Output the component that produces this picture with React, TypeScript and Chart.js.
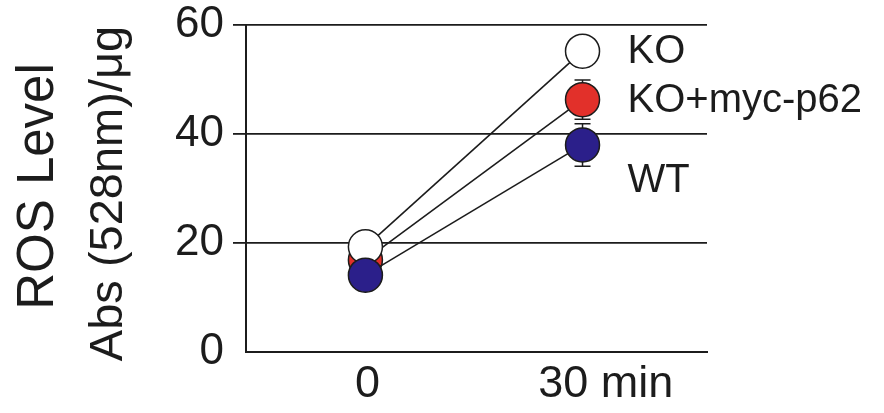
import React, { useEffect, useRef } from 'react';
import { Chart, registerables } from 'chart.js';

Chart.register(...registerables);

// ---- data ----
const timePoints = [0, 30];
const xTickValues = [0.3, 33.2];
const xTickLabels = ['0', '30 min'];
const yTicks = [0, 20, 40, 60];

const koValues = [19.3, 55.2];
const koErrors = [0, 0];
const p62Values = [16.9, 46.3];
const p62Errors = [0, 3.6];
const wtValues = [14.1, 38.0];
const wtErrors = [0, 3.9];

const seriesNames = ['WT', 'KO', 'KO+myc-p62'];
const yTitleLines = ['ROS Level', 'Abs (528nm)/\u03bcg'];

const FONT = '"Liberation Sans", Arial, Helvetica, sans-serif';
const INK = '#1c1c1c';

export default function App() {
  const ref = useRef<HTMLCanvasElement | null>(null);

  useEffect(() => {
    document.body.style.margin = '0';
    const canvas = ref.current;
    if (!canvas) return;

    const errorBars = {
      id: 'errorBars',
      beforeDatasetsDraw(chart: any) {
        const ctx = chart.ctx;
        const xs = chart.scales.x;
        const ys = chart.scales.y;
        ctx.save();
        ctx.strokeStyle = INK;
        ctx.lineWidth = 1.5;
        chart.data.datasets.forEach((ds: any) => {
          const errs: number[] = ds.errors || [];
          ds.data.forEach((p: any, i: number) => {
            const e = errs[i];
            if (!e) return;
            const x = xs.getPixelForValue(p.x);
            const yTop = ys.getPixelForValue(p.y + e);
            const yBot = ys.getPixelForValue(p.y - e);
            const cap = 8;
            ctx.beginPath();
            ctx.moveTo(x, yTop);
            ctx.lineTo(x, yBot);
            ctx.moveTo(x - cap, yTop);
            ctx.lineTo(x + cap, yTop);
            ctx.moveTo(x - cap, yBot);
            ctx.lineTo(x + cap, yBot);
            ctx.stroke();
          });
        });
        ctx.restore();
      },
    };

    const textLayer = {
      id: 'textLayer',
      afterDraw(chart: any) {
        const ctx = chart.ctx;
        const xs = chart.scales.x;
        const ys = chart.scales.y;
        const area = chart.chartArea;
        ctx.save();
        ctx.fillStyle = INK;
        // series labels next to the 30-min points
        const baselineOffsets: Record<string, number> = { 'KO': 12, 'KO+myc-p62': 12, 'WT': 47 };
        ctx.font = `40px ${FONT}`;
        ctx.textAlign = 'left';
        ctx.textBaseline = 'alphabetic';
        chart.data.datasets.forEach((ds: any) => {
          const last = ds.data[ds.data.length - 1];
          const x = xs.getPixelForValue(last.x) + 45;
          const y = ys.getPixelForValue(last.y) + (baselineOffsets[ds.label] || 0);
          ctx.fillText(ds.label, x, y);
        });
        // y-axis titles (rotated)
        const cy = (area.top + area.bottom) / 2;
        ctx.textAlign = 'center';
        ctx.save();
        ctx.translate(53, cy - 2);
        ctx.rotate(-Math.PI / 2);
        ctx.font = `51px ${FONT}`;
        ctx.fillText(yTitleLines[0], 0, 0);
        ctx.restore();
        ctx.save();
        ctx.translate(122, cy + 5);
        ctx.rotate(-Math.PI / 2);
        ctx.font = `47px ${FONT}`;
        ctx.fillText(yTitleLines[1], 0, 0);
        ctx.restore();
        ctx.restore();
      },
    };

    const mk = (label: string, values: number[], errors: number[], fill: string, order: number) => ({
      label,
      data: timePoints.map((t, i) => ({ x: t, y: values[i] })),
      errors,
      order,
      showLine: true,
      fill: false,
      tension: 0,
      borderColor: INK,
      borderWidth: 1.6,
      pointRadius: 17,
      pointHoverRadius: 17,
      pointBorderWidth: 1.5,
      pointBorderColor: INK,
      pointBackgroundColor: fill,
      backgroundColor: fill,
      clip: false,
    });

    const chart = new Chart(canvas, {
      type: 'line',
      data: {
        datasets: [
          mk(seriesNames[0], wtValues, wtErrors, '#2b1f8a', 0),
          mk(seriesNames[1], koValues, koErrors, '#ffffff', 1),
          mk(seriesNames[2], p62Values, p62Errors, '#e2302a', 2),
        ] as any,
      },
      options: {
        responsive: false,
        devicePixelRatio: 1,
        animation: false,
        events: [],
        layout: { padding: { top: 25, right: 177, left: 0, bottom: 0 } },
        plugins: {
          legend: { display: false },
          tooltip: { enabled: false },
        },
        scales: {
          x: {
            type: 'linear',
            min: -16.5,
            max: 47.2,
            afterBuildTicks: (s: any) => {
              s.ticks = xTickValues.map((v) => ({ value: v }));
            },
            grid: { display: false, drawTicks: false },
            border: { display: true, color: INK, width: 2 },
            ticks: {
              font: { family: FONT, size: 45 },
              color: INK,
              padding: 6,
              maxRotation: 0,
              autoSkip: false,
              callback: (_v: any, i: number) => xTickLabels[i],
            },
            afterFit: (s: any) => {
              s.height = 61;
              s.paddingLeft = 0;
              s.paddingRight = 0;
            },
          },
          y: {
            type: 'linear',
            min: 0,
            max: 60,
            afterBuildTicks: (s: any) => {
              s.ticks = yTicks.map((v) => ({ value: v }));
            },
            grid: {
              color: (c: any) => (c.tick && c.tick.value === 0 ? 'rgba(0,0,0,0)' : INK),
              lineWidth: 1.8,
              drawTicks: true,
              tickLength: 13,
            },
            border: { display: true, color: INK, width: 2 },
            ticks: {
              font: { family: FONT, size: 44 },
              color: INK,
              padding: 9,
              callback: (v: any) => String(v),
            },
            afterFit: (s: any) => {
              s.width = 246;
              s.paddingTop = 0;
              s.paddingBottom = 0;
            },
          },
        },
      } as any,
      plugins: [errorBars, textLayer],
    });

    return () => chart.destroy();
  }, []);

  return (
    <div style={{ width: 884, height: 413, position: 'relative' }}>
      <canvas ref={ref} width={884} height={413} style={{ display: 'block' }} />
    </div>
  );
}
